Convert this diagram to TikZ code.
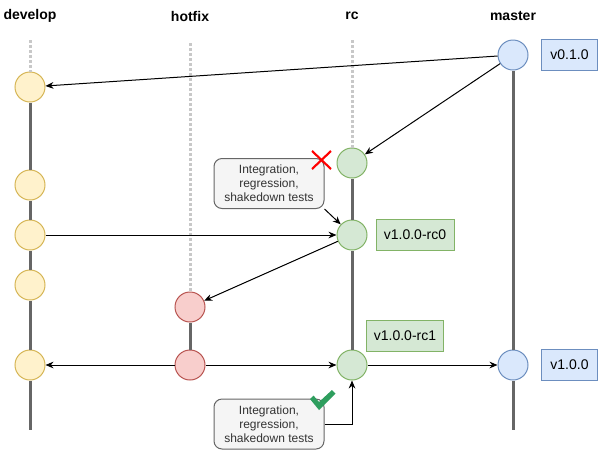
\documentclass[tikz,border=0pt]{standalone}
\usepackage{fontspec}
\setmainfont{Liberation Sans}
\usetikzlibrary{arrows.meta}

\definecolor{devfill}{HTML}{FFF2CC}
\definecolor{devline}{HTML}{D6B656}
\definecolor{hotfill}{HTML}{F8CECC}
\definecolor{hotline}{HTML}{B85450}
\definecolor{rcfill}{HTML}{D5E8D4}
\definecolor{rcline}{HTML}{82B366}
\definecolor{mfill}{HTML}{DAE8FC}
\definecolor{mline}{HTML}{6C8EBF}
\definecolor{branchgray}{HTML}{666666}
\definecolor{dotgray}{HTML}{C8C8C8}
\definecolor{notefill}{HTML}{F5F5F5}
\definecolor{notetext}{HTML}{333333}
\definecolor{okgreen}{HTML}{2E9E5E}

\begin{document}
\begin{tikzpicture}[x=0.75pt, y=-0.75pt,
	commit/.style={circle, draw, line width=0.75pt, minimum size=22.5pt, inner sep=0pt},
	branchname/.style={font=\bfseries\fontsize{10.5}{12}\selectfont},
	tag/.style={draw, line width=0.75pt, minimum height=23.5pt, inner sep=1pt, font=\fontsize{10.5}{12}\selectfont},
	callout/.style={draw=branchgray, fill=notefill, rounded corners=6pt, line width=0.75pt, text=notetext,
		align=center, minimum width=82.5pt, minimum height=37.5pt, inner sep=1pt,
		font=\fontsize{9}{10.5}\selectfont},
	branch/.style={line width=2.25pt, color=branchgray},
	future/.style={line width=2.25pt, color=dotgray, dash pattern=on 2.25pt off 1.5pt},
	merge/.style={-{Stealth[length=6pt,width=5pt]}, line width=0.75pt}]
	\useasboundingbox (0,0) rectangle (600,451);

	% branch names
	\node[branchname] (lbl-dev) at (30,16) {develop};
	\node[branchname] (lbl-hot) at (190,16) {hotfix};
	\node[branchname] (lbl-rc) at (352,16) {rc};
	\node[branchname] (lbl-master) at (513,16) {master};

	% commits
	\node[commit, fill=devfill, draw=devline] (d0) at (30,87) {};
	\node[commit, fill=devfill, draw=devline] (d1) at (30,185) {};
	\node[commit, fill=devfill, draw=devline] (d2) at (30,235) {};
	\node[commit, fill=devfill, draw=devline] (d3) at (30,285) {};
	\node[commit, fill=devfill, draw=devline] (d4) at (30,365) {};
	\node[commit, fill=hotfill, draw=hotline] (h0) at (190,307) {};
	\node[commit, fill=hotfill, draw=hotline] (h1) at (190,365) {};
	\node[commit, fill=rcfill, draw=rcline] (r0) at (352,163) {};
	\node[commit, fill=rcfill, draw=rcline] (r1) at (352,235) {};
	\node[commit, fill=rcfill, draw=rcline] (r2) at (352,365) {};
	\node[commit, fill=mfill, draw=mline] (m0) at (513,55) {};
	\node[commit, fill=mfill, draw=mline] (m1) at (513,365) {};

	\coordinate (dtop) at (30,40);
	\coordinate (htop) at (190,43);
	\coordinate (rtop) at (352,40);
	\coordinate (dend) at (30,430);
	\coordinate (mend) at (513,430);

	% branch lines (dotted before the branch exists)
	\draw[future] (dtop) -- (d0.north);
	\draw[future] (htop) -- (h0.north);
	\draw[future] (rtop) -- (r0.north);
	\draw[branch] (d0) -- (d1) -- (d2) -- (d3) -- (d4) -- (dend);
	\draw[branch] (h0) -- (h1);
	\draw[branch] (r0) -- (r1) -- (r2);
	\draw[branch] (m0) -- (m1) -- (mend);

	% tags
	\node[tag, fill=mfill, draw=mline, minimum width=41.5pt] (t010) at (569.5,55) {v0.1.0};
	\node[tag, fill=rcfill, draw=rcline, minimum width=58.5pt] (trc0) at (415,235) {v1.0.0-rc0};
	\node[tag, fill=rcfill, draw=rcline, minimum width=57.75pt] (trc1) at (405,336) {v1.0.0-rc1};
	\node[tag, fill=mfill, draw=mline, minimum width=41.5pt] (t100) at (569.5,365) {v1.0.0};

	% test notes
	\node[callout] (note1) at (269,183.5) {Integration,\\regression,\\shakedown tests};
	\node[callout] (note2) at (269,424) {Integration,\\regression,\\shakedown tests};

	% merges
	\draw[merge] (m0) -- (d0);
	\draw[merge] (m0) -- (r0);
	\draw[merge] (d2) -- (r1);
	\draw[merge] (r1) -- (h0);
	\draw[merge] (note1.south east) -- (r1);
	\draw[merge] (h1) -- (d4);
	\draw[merge] (h1) -- (r2);
	\draw[merge] (r2) -- (m1);
	\draw[merge] (note2.east) -| (r2.south);

	% failed / passed marks
	\draw[red, line width=1.6pt] (312,151) -- (331,169) (312,169) -- (331,151);
	\fill[okgreen] (310,399) -- (313.5,395.5) -- (319,402) -- (332,390) -- (335.5,393.5) -- (319,410) -- cycle;
\end{tikzpicture}
\end{document}
